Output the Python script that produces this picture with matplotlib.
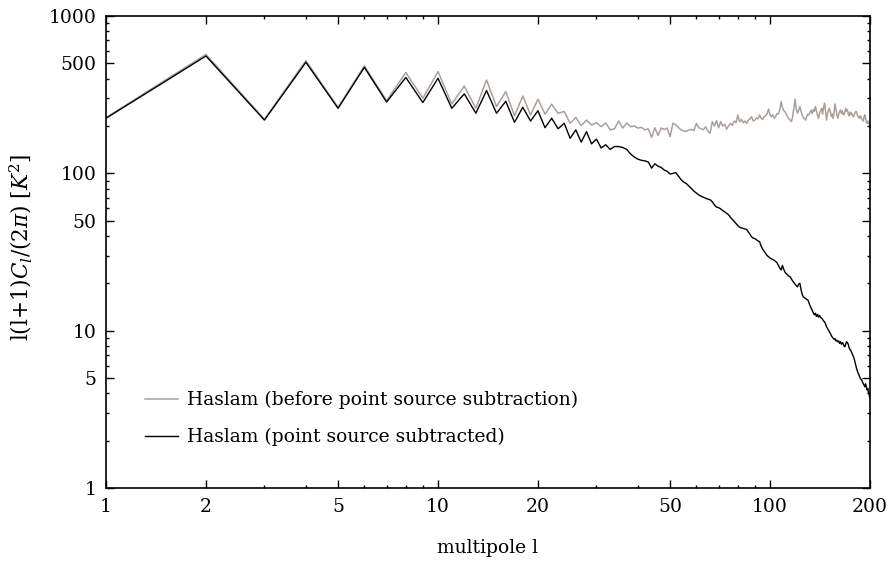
import numpy as np
import matplotlib
matplotlib.use("Agg")
import matplotlib.pyplot as plt
from matplotlib.ticker import FixedLocator, NullFormatter

# multipoles
ell = np.arange(1, 201)

# Haslam map, point sources subtracted (black)
cl_subtracted = [
    224, 557, 218, 508, 259, 472, 284, 407, 282, 402,
    259, 320, 241, 336, 241, 287, 211, 263, 215, 250,
    195, 224, 192, 208, 167, 189, 158, 184, 154, 165,
    145, 152, 142, 148, 148, 146, 142, 133, 127, 123,
    121, 120, 118, 108, 115, 111, 109, 105, 103, 99,
    100, 101, 96, 91, 88, 86, 83, 80, 77, 75,
    73, 71.5, 70.5, 69.5, 68.5, 68, 66, 63, 61, 60.5,
    59.5, 58, 57, 55.7, 54.5, 52.5, 51, 49.5, 48, 46.5,
    45.4, 45, 44.6, 44.3, 44, 42.5, 41, 39.5, 38.7, 38.5,
    37.8, 37.2, 36.8, 34.5, 33, 32, 31, 30, 29.5, 29,
    28.6, 28.3, 28, 27.5, 27, 26, 25, 24.3, 26, 24.5,
    23.5, 23, 22.6, 22.2, 22, 21.3, 20.7, 20.2, 19.7, 19.3,
    19, 19.8, 20, 18.2, 17, 16.4, 16.2, 16, 15.8, 15.7,
    15, 14.4, 13.9, 13.4, 13, 12.6, 12.9, 12.3, 12.7, 12.2,
    12.5, 12.1, 12, 11.8, 11.5, 11.4, 11, 10.6, 10.3, 10.1,
    9.8, 9.6, 9.3, 9.1, 8.95, 8.8, 8.9, 8.6, 8.7, 8.5,
    8.6, 8.3, 8.5, 8.2, 8.4, 8.3, 8.0, 7.9, 8.2, 8.5,
    8.4, 8.2, 7.8, 7.6, 7.5, 7.3, 7.1, 6.9, 6.7, 6.4,
    6.1, 5.8, 5.6, 5.4, 5.3, 5.1, 5.0, 4.9, 4.85, 4.7,
    4.6, 4.5, 4.4, 4.6, 4.4, 4.2, 4.3, 4.0, 3.9, 3.7,
]

# Haslam map before point source subtraction (grey)
cl_before = [
    226, 570, 221, 520, 263, 482, 290, 437, 300, 443,
    276, 359, 259, 392, 266, 331, 232, 310, 235, 296,
    238, 275, 241, 247, 208, 227, 201, 218, 203, 210,
    198, 209, 189, 192, 215, 194, 209, 198, 200, 194,
    196, 189, 192, 169, 195, 174, 194, 190, 194, 171,
    208, 204, 195, 189, 186, 185, 189, 190, 187, 208,
    195, 192, 189, 198, 185, 180, 213, 200, 216, 195,
    213, 200, 205, 191, 200, 208, 202, 215, 210, 235,
    213, 220, 210, 215, 208, 218, 222, 229, 215, 218,
    225, 222, 235, 224, 220, 229, 232, 240, 256, 235,
    229, 236, 224, 230, 240, 238, 252, 286, 262, 250,
    247, 236, 228, 222, 218, 213, 230, 262, 296, 255,
    241, 252, 266, 248, 235, 226, 222, 218, 230, 238,
    235, 245, 252, 240, 255, 248, 266, 250, 235, 224,
    240, 250, 259, 238, 265, 279, 245, 218, 240, 252,
    259, 245, 230, 238, 224, 250, 276, 255, 235, 224,
    238, 246, 253, 240, 250, 238, 235, 245, 258, 248,
    253, 240, 232, 245, 236, 242, 235, 229, 232, 240,
    247, 247, 238, 230, 228, 224, 232, 226, 222, 218,
    215, 228, 235, 225, 212, 208, 215, 210, 205, 202,
]

x_major = [1, 2, 5, 10, 20, 50, 100, 200]
x_minor = [3, 4, 6, 7, 8, 9, 30, 40, 60, 70, 80, 90]
y_major = [1, 5, 10, 50, 100, 500, 1000]
y_minor = [2, 3, 4, 6, 7, 8, 9, 20, 30, 40, 60, 70, 80, 90,
           200, 300, 400, 600, 700, 800, 900]

plt.rcParams['font.family'] = ['DejaVu Serif']
plt.rcParams['mathtext.fontset'] = 'dejavuserif'

fs = 13.5
fig = plt.figure(figsize=(8.9, 5.66), dpi=100)
ax = fig.add_axes([0.1191, 0.1378, 0.8584, 0.8339])

grey = '#aaa09b'
ax.plot(ell, cl_before, color=grey, lw=1.1,
        label='Haslam (before point source subtraction)')
ax.plot(ell, cl_subtracted, color='black', lw=1.0,
        label='Haslam (point source subtracted)')

ax.set_xscale('log')
ax.set_yscale('log')
ax.set_xlim(1, 200)
ax.set_ylim(1, 1000)

ax.xaxis.set_major_locator(FixedLocator(x_major))
ax.xaxis.set_minor_locator(FixedLocator(x_minor))
ax.yaxis.set_major_locator(FixedLocator(y_major))
ax.yaxis.set_minor_locator(FixedLocator(y_minor))
ax.set_xticklabels([str(v) for v in x_major])
ax.set_yticklabels([str(v) for v in y_major])
ax.xaxis.set_minor_formatter(NullFormatter())
ax.yaxis.set_minor_formatter(NullFormatter())

ax.tick_params(which='both', direction='in', top=True, right=True,
               width=1.0, labelsize=fs)
ax.tick_params(which='major', length=6)
ax.tick_params(which='minor', length=2.5)
ax.tick_params(axis='x', which='major', pad=7)
ax.tick_params(axis='y', which='major', pad=7)
for s in ax.spines.values():
    s.set_linewidth(1.2)

ax.set_xlabel('multipole l', fontsize=fs)
ax.xaxis.set_label_coords(0.5, -0.108)
ax.set_ylabel(r'l(l+1)$C_l/(2\pi)$ [$K^2$]', fontsize=15.5)
ax.yaxis.set_label_coords(-0.094, 0.51)

ax.legend(loc='center left', bbox_to_anchor=(0.051, 0.147), frameon=False,
          fontsize=fs, handlelength=1.75, handletextpad=0.5,
          labelspacing=1.0, borderpad=0, borderaxespad=0)

fig.savefig('out.png', dpi=100)
